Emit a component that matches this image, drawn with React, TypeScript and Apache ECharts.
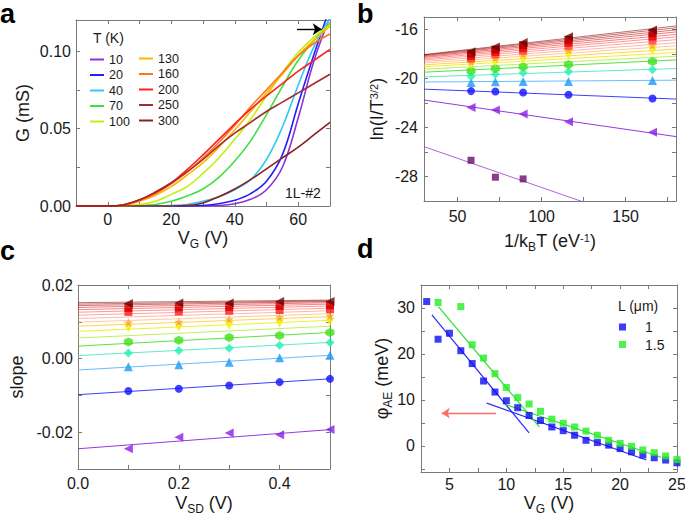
import React, { useEffect, useRef } from 'react';
import * as echarts from 'echarts';

const FONT = "'Liberation Sans', Arial, Helvetica, sans-serif";
const TXT = '#1a1a1a';
const AX = '#7a7a7a';

// ---------------- Panel a : G vs VG ----------------
const aVg = [-10, 0, 5, 10, 15, 20, 25, 30, 35, 40, 45, 50, 55, 60, 65, 70];
const aTemps = ['10', '20', '40', '70', '100', '130', '160', '200', '250', '300'];
const aG10 = [0, 0, 0, 0, 0, 0, 0, 0, 0.0003, 0.0015, 0.0043, 0.0105, 0.025, 0.057, 0.094, 0.122];
const aG20 = [0, 0, 0, 0, 0, 0, 0, 0.0003, 0.0015, 0.0037, 0.008, 0.016, 0.033, 0.066, 0.098, 0.128];
const aG40 = [0, 0, 0, 0, 0, 0.0003, 0.001, 0.003, 0.006, 0.0105, 0.017, 0.03, 0.051, 0.078, 0.103, 0.121];
const aG70 = [0, 0, 0, 0.0003, 0.001, 0.003, 0.0065, 0.011, 0.0185, 0.029, 0.042, 0.059, 0.077, 0.094, 0.107, 0.118];
const aG100 = [0, 0, 0, 0.001, 0.003, 0.0075, 0.0125, 0.021, 0.031, 0.043, 0.056, 0.071, 0.086, 0.099, 0.109, 0.117];
const aG130 = [0, 0, 0.0004, 0.003, 0.007, 0.0125, 0.02, 0.028, 0.038, 0.049, 0.061, 0.073, 0.085, 0.097, 0.107, 0.116];
const aG160 = [0, 0, 0.0006, 0.0035, 0.008, 0.0143, 0.022, 0.031, 0.041, 0.052, 0.064, 0.075, 0.086, 0.097, 0.105, 0.111];
const aG200 = [0, 0, 0.0008, 0.0038, 0.0085, 0.0148, 0.0235, 0.033, 0.043, 0.053, 0.0625, 0.071, 0.079, 0.087, 0.094, 0.101];
const aG250 = [0, 0, 0.0008, 0.004, 0.009, 0.015, 0.022, 0.03, 0.039, 0.047, 0.054, 0.061, 0.067, 0.073, 0.079, 0.085];
const aG300 = [0, 0, 0, 0, 0, 0, 0.0003, 0.002, 0.006, 0.011, 0.017, 0.024, 0.031, 0.038, 0.046, 0.054];
const aCurves = [aG10, aG20, aG40, aG70, aG100, aG130, aG160, aG200, aG250, aG300];
const aColors = ['#8e30d4', '#2020ff', '#30ccf0', '#40e040', '#c4ee10', '#ffb400', '#ff7420', '#ff2020', '#a42c2c', '#8c1e1e'];
const aArrowFrom = [59.6, 0.114];
const aArrowTo = [67.4, 0.114];
const aXTicks = [0, 10, 20, 30, 40, 50, 60, 70];
const aXLabels = [0, 20, 40, 60];
const aYTicks = [0, 0.025, 0.05, 0.075, 0.1];
const aYLabels = [0, 0.05, 0.1];

// ---------------- Panel b : ln(I/T^1.5) vs 1/kT ----------------
const bLineX = [30, 180];
const bLeft = [-25.57, -21.77, -20.88, -20.3, -19.88, -19.5, -19.25, -19.05, -18.9, -18.75, -18.62, -18.5, -18.4, -18.3, -18.22, -18.15, -18.1, -18.06];
const bRight = [-32.7, -24.75, -21.69, -20.15, -19.2, -18.5, -18.2, -17.9, -17.62, -17.35, -17.1, -16.85, -16.62, -16.42, -16.22, -16.05, -15.88, -15.73];
const bMarkX = [58, 72.5, 89, 116, 166];
const bM0 = [-26.68, -28.06, -28.2];
const bM1 = [-22.37, -22.59, -22.91, -23.53, -24.4];
const bM2 = [-21.04, -21.07, -21.15, -21.34, -21.64];
const bM3 = [-20.33, -20.28, -20.25, -20.25, -20.18];
const bM4 = [-19.85, -19.66, -19.55, -19.44, -19.3];
const bM5 = [-19.4, -19.2, -19.06, -18.87, -18.62];
const bM7 = [-18.9, -18.65, -18.45, -18.1, -17.75];
const bM9 = [-18.65, -18.35, -18.05, -17.7, -17.3];
const bM11 = [-18.4, -18.05, -17.75, -17.35, -16.9];
const bM13 = [-18.2, -17.85, -17.55, -17.1, -16.6];
const bM15 = [-18.0, -17.65, -17.3, -16.85, -16.3];
const bM17 = [-17.84, -17.44, -17.08, -16.62, -16.05];
const bXTicks = [50, 75, 100, 125, 150, 175];
const bXLabels = [50, 100, 150];
const bYTicks = [-30, -28, -26, -24, -22, -20, -18, -16];
const bYLabels = [-28, -24, -20, -16];

// ---------------- Panel c : slope vs VSD ----------------
const cLineX = [0, 0.5];
const cLeft = [-0.0245, -0.0098, -0.0031, 0.0008, 0.0034, 0.0056, 0.0074, 0.0088, 0.0099, 0.0109, 0.0118, 0.0126, 0.0133, 0.0139, 0.0144, 0.0148, 0.0152];
const cRight = [-0.0193, -0.0055, 0.0009, 0.0044, 0.0071, 0.0088, 0.0104, 0.0114, 0.0122, 0.013, 0.0137, 0.0143, 0.0148, 0.0152, 0.0155, 0.0157, 0.0159];
const cMarkX = [0.1, 0.2, 0.3, 0.4, 0.5];
const cM1 = [-0.0245, -0.0214, -0.0202, -0.0207, -0.0193];
const cM2 = [-0.0088, -0.0082, -0.0073, -0.0064, -0.0055];
const cM3 = [-0.0022, -0.0017, -0.001, 0.0002, 0.0009];
const cM4 = [0.0015, 0.0022, 0.0028, 0.0036, 0.0044];
const cM5 = [0.0045, 0.005, 0.0057, 0.0063, 0.0071];
const cM7 = [0.0083, 0.0085, 0.009, 0.0096, 0.0101];
const cM9 = [0.0098, 0.01, 0.0107, 0.0112, 0.0116];
const cM12 = [0.0127, 0.0128, 0.013, 0.0132, 0.0134];
const cM14 = [0.0138, 0.0139, 0.0141, 0.0143, 0.0145];
const cM17 = [0.015, 0.0151, 0.0151, 0.0155, 0.0155];
const cXTicks = [0, 0.1, 0.2, 0.3, 0.4, 0.5];
const cXLabels = [0, 0.2, 0.4];
const cYTicks = [-0.03, -0.02, -0.01, 0, 0.01, 0.02];
const cYLabels = [-0.02, 0, 0.02];

// ---------------- Panel d : phi_AE vs VG ----------------
const dNames = ['1', '1.5'];
const dBlueX = [3, 4, 5, 6, 7, 8, 9, 10, 11, 12, 13, 14, 15, 16, 17, 18, 19, 20, 21, 22, 23, 24, 25];
const dBlueY = [31.4, 23.2, 24.5, 20.7, 17.9, 14.1, 11.7, 9.8, 8.3, 6.6, 5.5, 4.1, 3.3, 2.3, 1.2, 0.7, 0.15, -0.6, -1.3, -2.0, -2.6, -3.1, -3.7];
const dGreenX = [4, 6, 7, 8, 9, 10, 11, 12, 13, 14, 15, 16, 17, 18, 19, 20, 21, 22, 23, 24, 25];
const dGreenY = [31.2, 30.3, 22.0, 19.1, 15.7, 12.7, 10.5, 9.1, 7.5, 5.8, 4.9, 4.1, 3.2, 2.3, 1.2, 0.5, -0.1, -0.9, -1.5, -2.2, -3.0];
const dBlueFitSteep = [[3.46, 28.5], [12.0, 2.8]];
const dBlueFitFlat = [[8.28, 9.3], [22.3, -3.1]];
const dGreenFitSteep = [[4.03, 30.3], [12.9, 4.1]];
const dGreenFitFlat = [[9.9, 9.0], [23.6, -2.5]];
const dArrowFrom = [9.1, 7.1];
const dArrowTo = [4.33, 7.1];
const dXTicks = [2.5, 5, 7.5, 10, 12.5, 15, 17.5, 20, 22.5, 25];
const dXLabels = [5, 10, 15, 20, 25];
const dYTicks = [-5, 0, 5, 10, 15, 20, 25, 30, 35];
const dYLabels = [0, 10, 20, 30];

// colours of the rainbow family used in b and c
const famLine = ['#a850d8', '#8a22e2', '#2a2aff', '#5ab4ff', '#4ee8c4', '#46e02a', '#b2f050', '#eeee10', '#ffcc40', '#ff9c48', '#ff7c64', '#ff5c56', '#ff3c3c', '#f01c1c', '#d80a0a', '#b80202', '#980000', '#760000'];
const famMark = ['#6e0a6e', '#8a1ee4', '#1010ff', '#1a9af2', '#20f0b0', '#40e018', '#b0f040', '#f2f000', '#ffcc20', '#ff9a30', '#ff6a40', '#ff4040', '#ff1a1a', '#f00000', '#d00000', '#b00000', '#900000', '#700000'];

const STAR = 'path://M50,0 L61,35 L98,35 L68,57 L79,91 L50,70 L21,91 L32,57 L2,35 L39,35 Z';
const HEX = 'path://M50,0 L93,25 L93,75 L50,100 L7,75 L7,25 Z';

const rich = {
  m: { fontSize: 18, fontFamily: FONT, color: TXT, lineHeight: 20, verticalAlign: 'top' },
  s: { fontSize: 12, fontFamily: FONT, color: TXT, lineHeight: 12, padding: [9, 0, 0, 0], verticalAlign: 'top' },
  p: { fontSize: 11, fontFamily: FONT, color: TXT, lineHeight: 11, verticalAlign: 'top' },
};

function axes(grid: number, dim: 'x' | 'y', min: number, max: number, ticks: number[], labels: number[], fmt: (v: number) => string, name: string, nameGap: number, margin: number) {
  const common = {
    type: 'value', gridIndex: grid, min, max,
    splitLine: { show: false },
    axisLine: { show: true, onZero: false, lineStyle: { color: AX, width: 1 } },
    axisTick: { show: true, inside: true, length: 4, customValues: ticks, lineStyle: { color: AX, width: 1 } },
  };
  const main = {
    ...common,
    position: dim === 'x' ? 'bottom' : 'left',
    axisLabel: { show: true, customValues: labels, formatter: (v: number) => fmt(v), color: TXT, fontSize: 16, fontFamily: FONT, margin },
    name, nameLocation: 'middle', nameGap, nameRotate: dim === 'y' ? 90 : 0,
    nameMoveOverlap: false,
    nameTextStyle: { rich, fontFamily: FONT, fontSize: 18, color: TXT },
  };
  const mirror = {
    ...common,
    position: dim === 'x' ? 'top' : 'right',
    axisLabel: { show: false },
  };
  return [main, mirror];
}

function buildOption() {
  const xAxis = [
    ...axes(0, 'x', -10, 70, aXTicks, aXLabels, (v) => String(v), '{m|V}{s|G}{m| (V)}', 23, 5),
    ...axes(1, 'x', 30, 180, bXTicks, bXLabels, (v) => String(v), '{m|1/k}{s|B}{m|T (eV}{p|-1}{m|)}', 31, 7),
    ...axes(2, 'x', 0, 0.5, cXTicks, cXLabels, (v) => v.toFixed(1), '{m|V}{s|SD}{m| (V)}', 25, 6),
    ...axes(3, 'x', 2.5, 25, dXTicks, dXLabels, (v) => String(v), '{m|V}{s|G}{m| (V)}', 22, 4),
  ];
  const yAxis = [
    ...axes(0, 'y', 0, 0.12, aYTicks, aYLabels, (v) => v.toFixed(2), '{m|G (mS)}', 42, 5),
    ...axes(1, 'y', -30, -15, bYTicks, bYLabels, (v) => String(v), '{m|ln(I/T}{p|3/2}{m|)}', 36, 6),
    ...axes(2, 'y', -0.03, 0.02, cYTicks, cYLabels, (v) => v.toFixed(2), '{m|slope}', 50, 5),
    ...axes(3, 'y', -5.7, 35, dYTicks, dYLabels, (v) => String(v), '{m|φ}{s|AE}{m| (meV)}', 28, 6),
  ];

  const series: any[] = [];

  // Panel a
  aCurves.forEach((g, i) => {
    const s: any = {
      type: 'line', name: aTemps[i], xAxisIndex: 0, yAxisIndex: 0,
      data: aVg.map((v, k) => [v, g[k]]),
      symbol: 'none', smooth: 0.4, clip: true,
      lineStyle: { color: aColors[i], width: 1.6 }, itemStyle: { color: aColors[i] },
      z: 3,
    };
    if (i === 0) {
      s.markLine = {
        silent: true, symbol: ['none', 'arrow'], symbolSize: 9,
        label: { show: false },
        lineStyle: { color: '#000', width: 1.4, type: 'solid' },
        data: [[{ coord: aArrowFrom }, { coord: aArrowTo }]],
      };
    }
    series.push(s);
  });

  // Panel b lines
  bLeft.forEach((l, i) => {
    series.push({
      type: 'line', name: 'bL' + i, xAxisIndex: 2, yAxisIndex: 2,
      data: [[bLineX[0], l], [bLineX[1], bRight[i]]],
      symbol: 'none', clip: true,
      lineStyle: { color: famLine[i], width: 1, opacity: i >= 9 ? 0.55 : 0.9 },
      z: 2,
    });
  });
  const bMarks: [number, number[], string, number, number][] = [
    [0, bM0, 'rect', 0, 7], [1, bM1, 'triangle', 90, 9], [2, bM2, 'circle', 0, 8], [3, bM3, 'triangle', 0, 9],
    [4, bM4, 'diamond', 0, 9], [5, bM5, HEX, 0, 9], [7, bM7, 'triangle', 180, 9], [9, bM9, STAR, 0, 9],
    [11, bM11, 'rect', 0, 8], [13, bM13, 'rect', 0, 8], [15, bM15, 'rect', 0, 8], [17, bM17, 'triangle', 90, 9],
  ];
  bMarks.forEach(([li, vals, sym, rot, size]) => {
    series.push({
      type: 'scatter', name: 'bM' + li, xAxisIndex: 2, yAxisIndex: 2,
      data: vals.map((v, k) => [bMarkX[k], v]),
      symbol: sym, symbolRotate: rot, symbolSize: size,
      itemStyle: { color: famMark[li] }, z: 4,
    });
  });

  // Panel c lines (family index = i + 1)
  cLeft.forEach((l, i) => {
    const fi = i + 1;
    series.push({
      type: 'line', name: 'cL' + fi, xAxisIndex: 4, yAxisIndex: 4,
      data: [[cLineX[0], l], [cLineX[1], cRight[i]]],
      symbol: 'none', clip: true,
      lineStyle: { color: famLine[fi], width: 1, opacity: fi >= 9 ? 0.55 : 0.9 },
      z: 2,
    });
  });
  const cMarks: [number, number[], string, number, number][] = [
    [1, cM1, 'triangle', 90, 9], [2, cM2, 'circle', 0, 8], [3, cM3, 'triangle', 0, 9], [4, cM4, 'diamond', 0, 9],
    [5, cM5, HEX, 0, 9], [7, cM7, 'triangle', 180, 9], [9, cM9, STAR, 0, 9], [12, cM12, 'rect', 0, 8],
    [14, cM14, 'rect', 0, 8], [17, cM17, 'triangle', 90, 9],
  ];
  cMarks.forEach(([li, vals, sym, rot, size]) => {
    series.push({
      type: 'scatter', name: 'cM' + li, xAxisIndex: 4, yAxisIndex: 4,
      data: vals.map((v, k) => [cMarkX[k], v]),
      symbol: sym, symbolRotate: rot, symbolSize: size,
      itemStyle: { color: famMark[li] }, z: 4,
    });
  });

  // Panel d
  const fit = (name: string, pts: number[][], color: string, arrow?: boolean) => {
    const s: any = {
      type: 'line', name, xAxisIndex: 6, yAxisIndex: 6, data: pts,
      symbol: 'none', clip: true, lineStyle: { color, width: 1.2 }, z: 2,
    };
    if (arrow) {
      s.markLine = {
        silent: true, symbol: ['none', 'arrow'], symbolSize: 8,
        label: { show: false },
        lineStyle: { color: '#ff6a6a', width: 1.4, type: 'solid' },
        data: [[{ coord: dArrowFrom }, { coord: dArrowTo }]],
      };
    }
    return s;
  };
  series.push(fit('dBfs', dBlueFitSteep, '#2a2aff', true));
  series.push(fit('dBff', dBlueFitFlat, '#2a2aff'));
  series.push(fit('dGfs', dGreenFitSteep, '#2ee02e'));
  series.push(fit('dGff', dGreenFitFlat, '#2ee02e'));
  series.push({
    type: 'scatter', name: dNames[0], xAxisIndex: 6, yAxisIndex: 6,
    data: dBlueX.map((x, k) => [x, dBlueY[k]]), symbol: 'rect', symbolSize: 7,
    itemStyle: { color: '#0c0cf2' }, z: 4,
  });
  series.push({
    type: 'scatter', name: dNames[1], xAxisIndex: 6, yAxisIndex: 6,
    data: dGreenX.map((x, k) => [x, dGreenY[k]]), symbol: 'rect', symbolSize: 7,
    itemStyle: { color: '#22ee22' }, z: 4,
  });

  const legText = { fontSize: 12.5, fontFamily: FONT, color: TXT, lineHeight: 12 };
  const legend = [
    { data: aTemps.slice(0, 5), left: 90, top: 53, orient: 'vertical', icon: 'rect', itemWidth: 14, itemHeight: 2, itemGap: 2.5, textStyle: legText, selectedMode: false, padding: 0 },
    { data: aTemps.slice(5), left: 139, top: 52, orient: 'vertical', icon: 'rect', itemWidth: 14, itemHeight: 2, itemGap: 2.5, textStyle: legText, selectedMode: false, padding: 0 },
    { data: dNames, left: 619, top: 320, orient: 'vertical', icon: 'rect', itemWidth: 7, itemHeight: 7, itemGap: 3.5, textStyle: { fontSize: 14, fontFamily: FONT, color: TXT, lineHeight: 14, padding: [0, 0, 0, 14] }, selectedMode: false, padding: 0 },
  ];

  const lab = (t: string, x: number, y: number) => ({
    type: 'text', left: x, top: y,
    style: { text: t, fontSize: 27, fontWeight: 'bold', fontFamily: FONT, fill: '#000' },
  });
  const txt = (t: string, x: number, y: number, size: number) => ({
    type: 'text', left: x, top: y,
    style: { text: t, fontSize: size, fontFamily: FONT, fill: TXT },
  });

  return {
    animation: false,
    backgroundColor: '#fff',
    grid: [
      { left: 76, top: 20, width: 254, height: 186, outerBoundsMode: 'none' },
      { left: 424, top: 17, width: 252, height: 184, outerBoundsMode: 'none' },
      { left: 78, top: 285, width: 252, height: 184, outerBoundsMode: 'none' },
      { left: 421, top: 285, width: 256, height: 187, outerBoundsMode: 'none' },
    ],
    xAxis, yAxis, series, legend,
    graphic: [
      lab('a', 0, 0), lab('b', 357, 0), lab('c', 0, 237), lab('d', 357, 235),
      txt('T (K)', 93, 31, 14),
      txt('1L-#2', 285, 186, 14),
      txt('L (μm)', 618, 299, 14),
    ],
  };
}

export default function App() {
  const ref = useRef<HTMLDivElement>(null);
  useEffect(() => {
    document.body.style.margin = '0';
    const chart = echarts.init(ref.current!, undefined, { renderer: 'svg' });
    chart.setOption(buildOption() as any);
    return () => chart.dispose();
  }, []);
  return <div ref={ref} style={{ width: 685, height: 518 }} />;
}
